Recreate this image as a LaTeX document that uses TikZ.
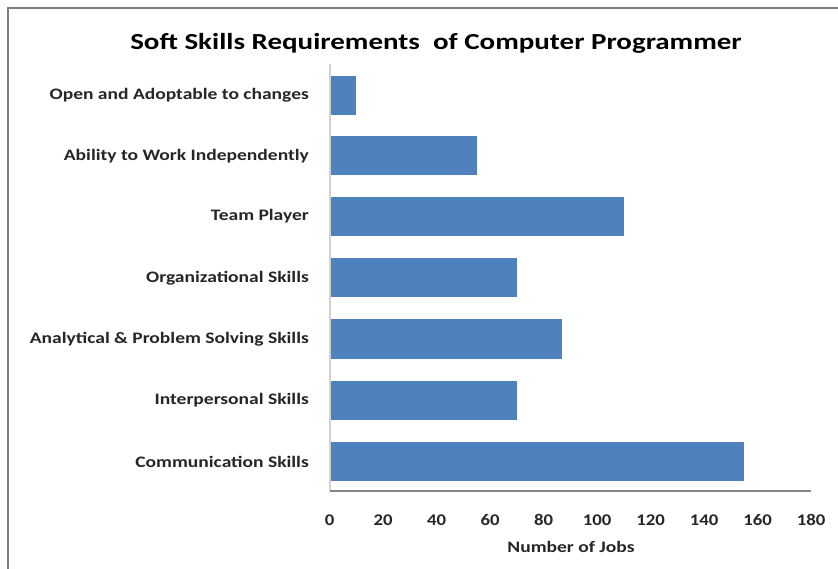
\documentclass[tikz,border=0pt]{standalone}
\usepackage{fontspec}
\setmainfont{Carlito}[FakeStretch=1.15]
\newfontfamily\catfont{Carlito}[FakeStretch=1.22]
\newfontfamily\ttlfont{Carlito}[FakeStretch=1.26]
\definecolor{barblue}{HTML}{4F81BD}
\definecolor{framegray}{HTML}{7F7F7F}
\definecolor{axisgray}{HTML}{868686}
\begin{document}
\begin{tikzpicture}[x=1pt,y=-1pt,
  bar/.style={fill=barblue,draw=none},
  cat/.style={anchor=east,font=\catfont\fontsize{16}{18}\selectfont\bfseries,text=black!85,inner sep=0pt},
  tick/.style={anchor=center,font=\fontsize{16.3}{18}\selectfont\bfseries,text=black!85,inner sep=0pt},
  ttl/.style={anchor=center,font=\ttlfont\fontsize{23}{25}\selectfont\bfseries,inner sep=0pt}]
\useasboundingbox (0,0) rectangle (838,569);
\clip (0,0) rectangle (838,569);
\fill[white] (0,0) rectangle (838,569);
\draw[framegray,line width=1.6pt] (8,8) rectangle (860,600);
\node[ttl] (title) at (436,43) {Soft Skills Requirements\ \ of Computer Programmer};
% bars: 0 at 329.5, 2.675 px per unit
\foreach \v/\y/\t [count=\i] in {10/95.5/Open and Adoptable to changes,
  55/156/Ability to Work Independently,
  110/216.5/Team Player,
  70/278/Organizational Skills,
  87/339/Analytical \& Problem Solving Skills,
  70/400/Interpersonal Skills,
  155/461.5/Communication Skills}{
  \fill[bar] (329.5,\y-19.5) rectangle ({329.5+2.675*\v},\y+19.5);
  \node[cat] (c\i) at (309,\y) {\t};
}
\draw[black!18,line width=2pt] (329.5,64) coordinate (ytop) -- (329.5,491) coordinate (orig);
\draw[axisgray,line width=1.2pt] (orig) -- (811,491) coordinate (xend);
\foreach \n in {0,20,...,180}{
  \node[tick] (t\n) at ({329.5+2.675*\n},520) {\n};
}
\node[anchor=center,font=\catfont\fontsize{16}{18}\selectfont\bfseries,text=black!85,inner sep=0pt] (xlab) at (571,547) {Number of Jobs};
\end{tikzpicture}
\end{document}
